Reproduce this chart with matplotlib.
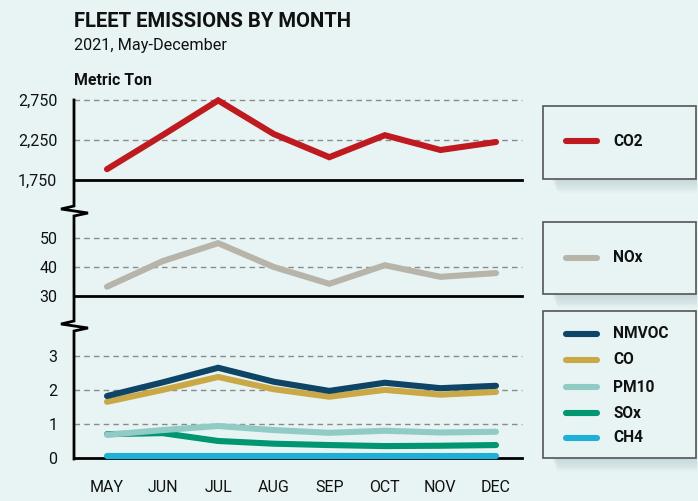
import matplotlib.pyplot as plt
from matplotlib.lines import Line2D
from matplotlib.patches import Rectangle

plt.rcParams['font.family'] = ['Roboto', 'DejaVu Sans']

months = ["MAY", "JUN", "JUL", "AUG", "SEP", "OCT", "NOV", "DEC"]
co2 = [1885, 2310, 2745, 2325, 2035, 2310, 2125, 2225]
nox = [33.2, 42.0, 48.2, 40.0, 34.2, 40.6, 36.6, 37.9]
nmvoc = [1.82, 2.22, 2.65, 2.24, 1.97, 2.21, 2.05, 2.12]
co = [1.65, 2.00, 2.38, 2.02, 1.80, 2.00, 1.86, 1.94]
pm10 = [0.68, 0.82, 0.94, 0.82, 0.74, 0.80, 0.75, 0.77]
sox = [0.70, 0.73, 0.50, 0.42, 0.38, 0.35, 0.36, 0.38]
ch4 = [0.05, 0.05, 0.05, 0.05, 0.05, 0.05, 0.05, 0.05]

BG = "#e8f4f4"
W, H = 698, 501
colors = {"CO2": "#be1a1f", "NOx": "#b7b5aa", "NMVOC": "#0e4466",
          "CO": "#c9a845", "PM10": "#90ccc5", "SOx": "#009671", "CH4": "#1fb0d8"}

fig = plt.figure(figsize=(W / 100, H / 100), dpi=100, facecolor=BG)


def fx(px):
    return px / W


def fy(py):
    return 1 - py / H


def add_panel(top, bottom, ylim, ticks, labels):
    ax = fig.add_axes([fx(74), fy(bottom), fx(522) - fx(74), fy(top) - fy(bottom)])
    ax.set_facecolor("none")
    ax.set_xlim(-0.594, 7.468)
    ax.set_ylim(*ylim)
    for s in ["top", "right", "left"]:
        ax.spines[s].set_visible(False)
    ax.spines["bottom"].set_linewidth(2)
    ax.spines["bottom"].set_color("black")
    ax.set_yticks(ticks)
    ax.set_yticklabels(labels)
    ax.tick_params(axis="y", length=0, pad=12, labelsize=11.5, labelcolor="#111")
    ax.set_xticks([])
    for t in ticks[1:]:
        ax.axhline(t, color="#8a8a8a", lw=1, ls=(0, (4, 3)), clip_on=False, zorder=1)
    return ax


ax1 = add_panel(100, 180, (1750, 2750), [1750, 2250, 2750], ["1,750", "2,250", "2,750"])
ax2 = add_panel(215, 296, (30, 57.9), [30, 40, 50], ["30", "40", "50"])
ax3 = add_panel(332, 458, (0, 3.7), [0, 1, 2, 3], ["0", "1", "2", "3"])

x = list(range(len(months)))
kw = dict(lw=4.4, solid_capstyle="round", solid_joinstyle="miter", clip_on=False, zorder=3)
ax1.plot(x, co2, color=colors["CO2"], **kw)
ax2.plot(x, nox, color=colors["NOx"], **kw)
ax3.plot(x, ch4, color=colors["CH4"], **kw)
ax3.plot(x, sox, color=colors["SOx"], **kw)
ax3.plot(x, pm10, color=colors["PM10"], **kw)
ax3.plot(x, co, color=colors["CO"], **kw)
ax3.plot(x, nmvoc, color=colors["NMVOC"], **kw)

ax3.set_xticks(x)
ax3.set_xticklabels(months)
ax3.tick_params(axis="x", length=0, pad=16, labelsize=11.5, labelcolor="#111")

# left axis line with break marks
pts = [(74, 100), (74, 206), (61, 209), (88, 213), (74, 216),
       (74, 321), (61, 324), (88, 328), (74, 331), (74, 459)]
fig.add_artist(Line2D([fx(p[0]) for p in pts], [fy(p[1]) for p in pts],
                      color="black", lw=2, solid_joinstyle="miter"))

# titles
fig.text(fx(74), fy(27), "FLEET EMISSIONS BY MONTH", fontsize=14.6, fontweight="bold",
         color="#111", va="baseline")
fig.text(fx(74), fy(50), "2021, May-December", fontsize=11.7, color="#111", va="baseline")
fig.text(fx(74), fy(85), "Metric Ton", fontsize=11.4, fontweight="bold", color="#111",
         va="baseline")


def legend_box(top, bottom, entries):
    # soft shadow below the box
    for i in range(10):
        d = 2 + i * 1.3
        fig.add_artist(Rectangle((fx(552 + i * 0.6), fy(bottom + d)),
                                 fx(697) - fx(552 + i * 0.6), fy(top + d) - fy(bottom + d),
                                 facecolor="#a9bfc6", edgecolor="none", alpha=0.06))
    fig.add_artist(Rectangle((fx(543), fy(bottom)), fx(696) - fx(543), fy(top) - fy(bottom),
                             facecolor=BG, edgecolor="#555", lw=1.2))
    for name, yc in entries:
        fig.add_artist(Line2D([fx(566), fx(597)], [fy(yc), fy(yc)], color=colors[name],
                              lw=4.4, solid_capstyle="round"))
        fig.text(fx(613), fy(yc), name, fontsize=11.2, fontweight="bold", color="#111",
                 va="center")


legend_box(106, 179, [("CO2", 141)])
legend_box(222, 294, [("NOx", 258)])
legend_box(311, 458, [("NMVOC", 334), ("CO", 360), ("PM10", 387), ("SOx", 413), ("CH4", 438)])

fig.savefig("out.png", dpi=100, facecolor=BG)
